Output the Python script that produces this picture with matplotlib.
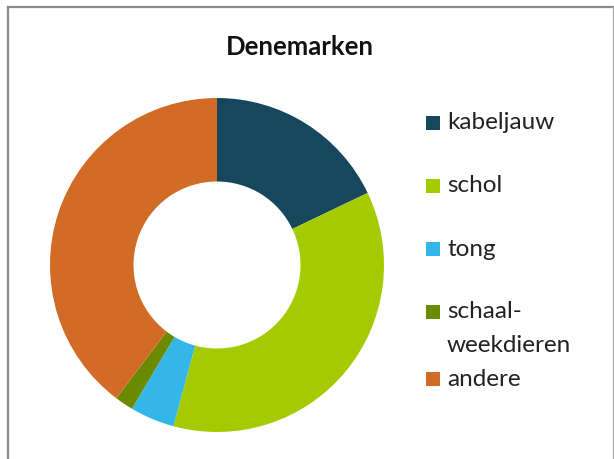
import matplotlib
matplotlib.use("Agg")
import matplotlib.pyplot as plt
from matplotlib.patches import Rectangle
from matplotlib.lines import Line2D

categories = ["kabeljauw", "schol", "tong", "schaal-\nweekdieren", "andere"]
values = [17.9, 36.3, 4.3, 1.8, 39.7]
colors = ["#17475C", "#A5CB00", "#35B6E9", "#6A8A00", "#D26B25"]
title = "Denemarken"

W, H = 614, 459
fig = plt.figure(figsize=(W / 100, H / 100), dpi=100)
fig.patch.set_facecolor("white")

cx, cy, r = 217, 265, 167
ax = fig.add_axes([(cx - r) / W, (H - cy - r) / H, 2 * r / W, 2 * r / H])
ax.pie(values, colors=colors, startangle=90, counterclock=False,
       radius=1.0, wedgeprops=dict(width=0.5, edgecolor="none", linewidth=0))
ax.set_xlim(-1, 1)
ax.set_ylim(-1, 1)
ax.set_aspect("auto")
ax.axis("off")

# frame (left, top, right)
fig.add_artist(Line2D([8 / W, 8 / W], [0, 1 - 7 / H], transform=fig.transFigure,
                      color="#8a8a8a", lw=1.6))
fig.add_artist(Line2D([8 / W, 613 / W], [1 - 7 / H, 1 - 7 / H], transform=fig.transFigure,
                      color="#8a8a8a", lw=1.6))
fig.add_artist(Line2D([613 / W, 613 / W], [0, 1 - 7 / H], transform=fig.transFigure,
                      color="#b0b0b0", lw=1.0))

fig.text(300 / W, 1 - 47 / H, title, ha="center", va="center",
         fontsize=18.5, fontweight="bold", family="Lato", color="#111111")

# legend
ys = [123, 186, 249, 312, 379]
for cat, col, y in zip(categories, colors, ys):
    fig.add_artist(Rectangle((426 / W, 1 - (y + 7) / H), 14 / W, 14 / H,
                             transform=fig.transFigure, facecolor=col, edgecolor="none"))
    lines = cat.split("\n")
    for i, line in enumerate(lines):
        fig.text(447 / W, 1 - (y + i * 33) / H, line, ha="left", va="center",
                 fontsize=17.5, family="Lato", color="#222222")

fig.savefig("out.png", dpi=100)
